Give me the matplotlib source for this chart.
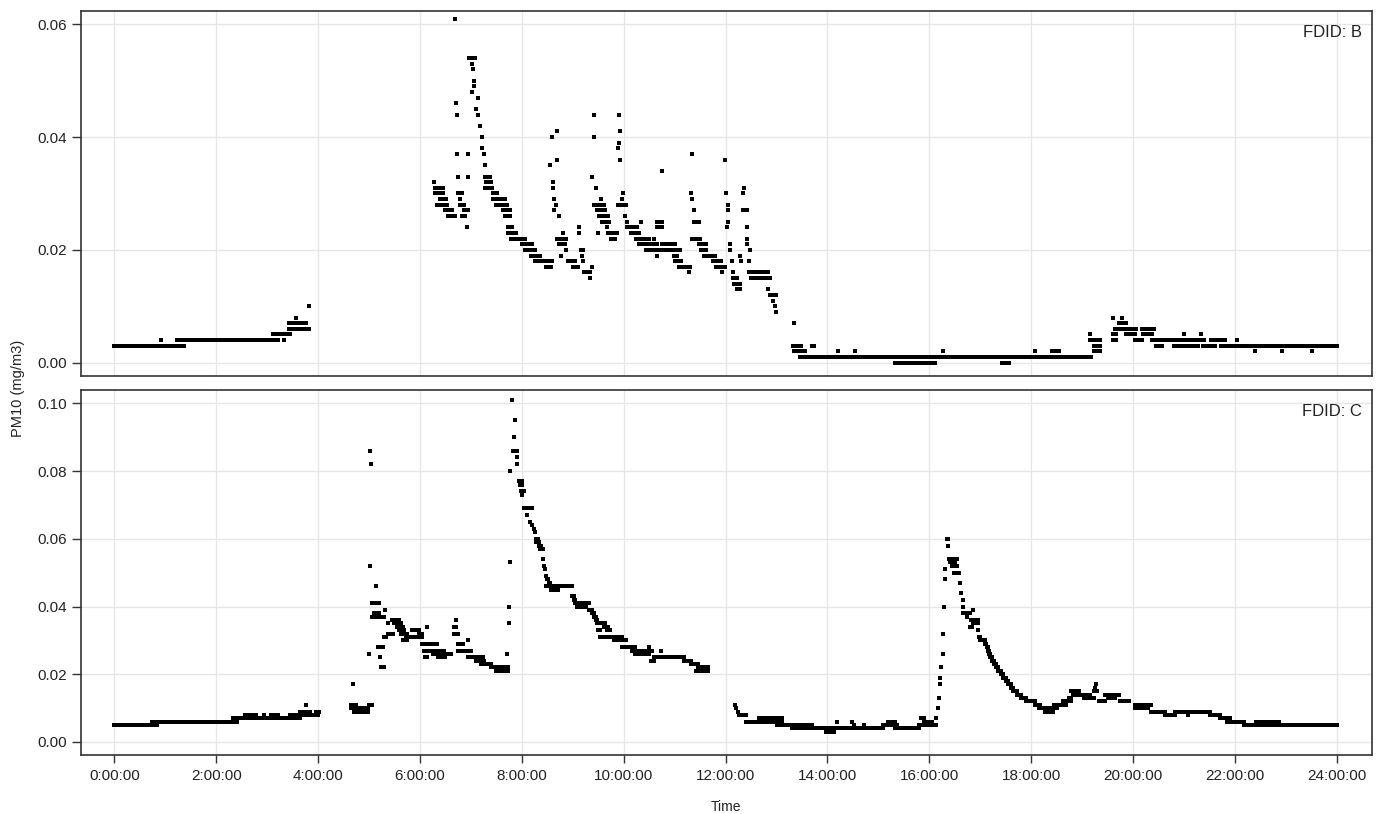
import numpy as np
import matplotlib
matplotlib.use("Agg")
import matplotlib.pyplot as plt

plt.rcParams['font.family'] = ['Liberation Sans', 'DejaVu Sans']

# ---------------- data: (start hour, end hour, PM10 value) runs
# Panel B
B_NIGHT = [
    (0.00, 1.37, 0.003), (0.91, 0.91, 0.004), (1.24, 3.21, 0.004),
    (3.12, 3.45, 0.005), (3.33, 3.33, 0.004), (3.42, 3.76, 0.007),
    (3.42, 3.83, 0.006), (3.56, 3.56, 0.008), (3.82, 3.82, 0.010),
]
B_MORNING = [
    (6.28, 6.28, 0.032), (6.30, 6.46, 0.031), (6.30, 6.46, 0.030),
    (6.40, 6.51, 0.029), (6.34, 6.53, 0.028), (6.49, 6.62, 0.027),
    (6.55, 6.69, 0.026), (6.68, 6.68, 0.061), (6.70, 6.70, 0.046),
    (6.73, 6.73, 0.044), (6.73, 6.73, 0.037), (6.75, 6.75, 0.033),
    (6.75, 6.82, 0.030), (6.78, 6.78, 0.029), (6.78, 6.86, 0.028),
    (6.86, 6.95, 0.027), (6.82, 6.89, 0.026), (6.93, 6.93, 0.024),
    (6.95, 6.95, 0.037), (6.95, 6.95, 0.033), (6.97, 7.08, 0.054),
    (7.02, 7.02, 0.053), (7.05, 7.05, 0.052), (7.07, 7.07, 0.050),
    (7.07, 7.07, 0.049), (7.02, 7.02, 0.048), (7.13, 7.13, 0.047),
    (7.10, 7.10, 0.045), (7.13, 7.13, 0.044), (7.17, 7.17, 0.042),
    (7.21, 7.21, 0.040), (7.21, 7.21, 0.038), (7.25, 7.25, 0.037),
    (7.27, 7.27, 0.035), (7.28, 7.38, 0.033), (7.30, 7.40, 0.032),
    (7.28, 7.42, 0.031), (7.44, 7.51, 0.030), (7.44, 7.67, 0.029),
    (7.49, 7.70, 0.028), (7.64, 7.76, 0.027), (7.67, 7.76, 0.026),
    (7.72, 7.81, 0.024), (7.72, 7.89, 0.023), (7.79, 8.07, 0.022),
    (8.00, 8.20, 0.021), (8.06, 8.25, 0.020), (8.18, 8.36, 0.019),
    (8.26, 8.59, 0.018), (8.47, 8.57, 0.017),
]
B_LATE_MORNING = [
    (8.56, 8.56, 0.035), (8.59, 8.59, 0.040), (8.70, 8.70, 0.041),
    (8.70, 8.70, 0.036), (8.61, 8.61, 0.032), (8.61, 8.61, 0.031),
    (8.64, 8.64, 0.029), (8.67, 8.67, 0.028), (8.64, 8.64, 0.027),
    (8.73, 8.73, 0.026), (8.80, 8.80, 0.023), (8.70, 8.87, 0.022),
    (8.72, 8.85, 0.021), (8.76, 8.76, 0.019), (8.87, 8.87, 0.020),
    (8.91, 9.05, 0.018), (9.00, 9.10, 0.017), (9.13, 9.13, 0.024),
    (9.13, 9.13, 0.023), (9.17, 9.21, 0.020), (9.19, 9.19, 0.019),
    (9.21, 9.21, 0.018), (9.22, 9.34, 0.016), (9.34, 9.34, 0.015),
    (9.38, 9.38, 0.017), (9.41, 9.41, 0.044), (9.41, 9.41, 0.040),
    (9.38, 9.38, 0.033), (9.46, 9.46, 0.031), (9.55, 9.55, 0.029),
    (9.42, 9.61, 0.028), (9.47, 9.64, 0.027), (9.52, 9.69, 0.026),
    (9.57, 9.72, 0.025), (9.50, 9.50, 0.023), (9.68, 9.68, 0.024),
    (9.69, 9.86, 0.023), (9.75, 9.83, 0.022), (9.90, 9.90, 0.044),
    (9.92, 9.92, 0.041), (9.90, 9.90, 0.039), (9.88, 9.88, 0.038),
    (9.92, 9.92, 0.036), (9.99, 9.99, 0.030), (9.96, 9.96, 0.029),
    (9.88, 10.04, 0.028),
]
B_MIDDAY = [
    (10.02, 10.02, 0.026), (10.06, 10.06, 0.025), (10.07, 10.27, 0.024),
    (10.14, 10.30, 0.023), (10.33, 10.33, 0.025), (10.24, 10.50, 0.022),
    (10.30, 10.66, 0.021), (10.43, 10.70, 0.020), (10.59, 10.59, 0.022),
    (10.66, 10.66, 0.019), (10.66, 10.75, 0.025), (10.66, 10.75, 0.024),
    (10.75, 10.75, 0.034), (10.75, 11.00, 0.021), (10.75, 11.10, 0.020),
    (10.98, 11.05, 0.019), (11.00, 11.13, 0.018), (11.09, 11.31, 0.017),
    (11.29, 11.29, 0.016), (11.35, 11.35, 0.037), (11.32, 11.32, 0.030),
    (11.35, 11.35, 0.029), (11.38, 11.38, 0.027), (11.38, 11.47, 0.025),
    (11.35, 11.50, 0.022), (11.47, 11.61, 0.021), (11.52, 11.61, 0.020),
    (11.58, 11.79, 0.019), (11.75, 11.91, 0.018), (11.81, 11.98, 0.017),
    (11.93, 11.93, 0.016), (11.98, 11.98, 0.036), (12.00, 12.00, 0.030),
    (12.04, 12.04, 0.028), (12.05, 12.05, 0.027), (12.05, 12.05, 0.025),
    (12.03, 12.03, 0.024), (12.09, 12.09, 0.021), (12.09, 12.09, 0.020),
    (12.12, 12.12, 0.018), (12.15, 12.15, 0.016), (12.15, 12.22, 0.015),
    (12.17, 12.28, 0.014), (12.22, 12.28, 0.013), (12.28, 12.28, 0.019),
    (12.31, 12.31, 0.018), (12.34, 12.34, 0.030), (12.37, 12.37, 0.031),
    (12.34, 12.42, 0.027), (12.42, 12.42, 0.024), (12.43, 12.43, 0.022),
    (12.43, 12.43, 0.021), (12.47, 12.47, 0.020), (12.45, 12.45, 0.018),
    (12.46, 12.84, 0.016), (12.49, 12.87, 0.015), (12.84, 12.84, 0.013),
    (12.87, 12.98, 0.012), (12.93, 12.93, 0.011), (12.97, 12.97, 0.010),
    (12.98, 12.98, 0.009), (13.35, 13.35, 0.007), (13.33, 13.48, 0.003),
    (13.35, 13.55, 0.002), (13.69, 13.73, 0.003),
]
B_AFTERNOON = [
    (13.46, 19.17, 0.001), (14.20, 14.20, 0.002), (14.55, 14.55, 0.002),
    (15.33, 15.50, 0.000), (15.57, 15.91, 0.000), (16.00, 16.12, 0.000),
    (16.26, 16.26, 0.002), (17.43, 17.57, 0.000), (18.07, 18.07, 0.002),
    (18.41, 18.55, 0.002), (19.16, 19.16, 0.005), (19.16, 19.36, 0.004),
    (19.23, 19.36, 0.003), (19.23, 19.36, 0.002), (19.60, 19.60, 0.008),
    (19.79, 19.79, 0.008), (19.72, 19.86, 0.007), (19.64, 20.06, 0.006),
    (19.60, 19.67, 0.005), (19.60, 19.67, 0.004), (19.86, 20.04, 0.005),
    (20.04, 20.17, 0.004), (20.17, 20.41, 0.006), (20.20, 20.37, 0.005),
    (20.37, 21.20, 0.004), (20.44, 20.57, 0.003), (20.81, 20.98, 0.003),
    (21.00, 21.00, 0.005), (21.03, 21.27, 0.003), (21.17, 21.40, 0.004),
    (21.33, 21.33, 0.005), (21.38, 21.60, 0.003), (21.53, 21.80, 0.004),
    (22.03, 22.03, 0.004), (21.73, 24.00, 0.003), (22.40, 22.40, 0.002),
    (22.93, 22.93, 0.002), (23.52, 23.52, 0.002),
]

# Panel C
C_NIGHT = [
    (0.00, 0.83, 0.005), (0.73, 2.40, 0.006), (2.33, 3.65, 0.007),
    (2.57, 2.79, 0.008), (2.93, 2.93, 0.008), (3.07, 3.22, 0.008),
    (3.44, 4.00, 0.008), (3.65, 3.84, 0.009), (3.76, 3.76, 0.011),
    (3.95, 4.02, 0.009), (4.65, 4.75, 0.011), (4.65, 4.80, 0.010),
    (4.68, 4.68, 0.017), (4.70, 4.98, 0.009), (4.85, 4.98, 0.010),
    (5.00, 5.05, 0.011),
]
C_MORNING = [
    (4.99, 4.99, 0.026), (5.01, 5.01, 0.052), (5.02, 5.02, 0.086),
    (5.04, 5.04, 0.082), (5.13, 5.13, 0.046), (5.06, 5.19, 0.041),
    (5.06, 5.23, 0.037), (5.10, 5.20, 0.038), (5.32, 5.32, 0.039),
    (5.30, 5.30, 0.037), (5.17, 5.27, 0.028), (5.21, 5.21, 0.025),
    (5.24, 5.29, 0.022), (5.29, 5.33, 0.031), (5.37, 5.48, 0.032),
    (5.37, 5.37, 0.035), (5.46, 5.59, 0.036), (5.50, 5.62, 0.035),
    (5.55, 5.66, 0.034), (5.58, 5.68, 0.033), (5.62, 5.75, 0.032),
    (5.66, 5.75, 0.030), (5.72, 6.05, 0.031), (5.85, 5.98, 0.033),
    (5.98, 6.05, 0.032), (6.14, 6.14, 0.034), (6.05, 6.10, 0.029),
    (6.08, 6.14, 0.027), (6.10, 6.14, 0.025), (6.18, 6.34, 0.029),
    (6.21, 6.47, 0.027), (6.25, 6.61, 0.026), (6.35, 6.50, 0.025),
    (6.71, 6.71, 0.036), (6.66, 6.70, 0.034), (6.66, 6.75, 0.032),
    (6.75, 6.85, 0.029), (6.75, 7.00, 0.027), (6.94, 6.94, 0.030),
    (6.94, 7.23, 0.025), (7.10, 7.26, 0.024), (7.20, 7.39, 0.023),
    (7.39, 7.72, 0.022), (7.49, 7.72, 0.021), (7.71, 7.71, 0.026),
    (7.74, 7.74, 0.035), (7.74, 7.74, 0.040), (7.77, 7.77, 0.053),
    (7.77, 7.77, 0.080), (7.80, 7.80, 0.101), (7.86, 7.86, 0.095),
    (7.84, 7.84, 0.090), (7.82, 7.91, 0.086), (7.91, 7.91, 0.084),
    (7.91, 7.91, 0.082), (7.94, 8.00, 0.077), (7.96, 8.00, 0.076),
    (7.98, 8.05, 0.074), (8.05, 8.05, 0.069),
]
C_LATE_MORNING = [
    (8.00, 8.00, 0.073), (8.10, 8.20, 0.069), (8.10, 8.10, 0.067),
    (8.17, 8.17, 0.065), (8.20, 8.20, 0.064), (8.24, 8.24, 0.063),
    (8.25, 8.25, 0.062), (8.28, 8.31, 0.060), (8.28, 8.34, 0.059),
    (8.33, 8.38, 0.058), (8.36, 8.41, 0.057), (8.41, 8.41, 0.054),
    (8.43, 8.43, 0.052), (8.46, 8.46, 0.051), (8.48, 8.48, 0.049),
    (8.50, 8.52, 0.048), (8.48, 8.98, 0.046), (8.58, 8.71, 0.045),
    (8.53, 8.56, 0.047), (8.98, 9.02, 0.043), (9.02, 9.05, 0.042),
    (9.05, 9.32, 0.041), (9.08, 9.25, 0.040), (9.32, 9.37, 0.039),
    (9.37, 9.42, 0.038), (9.42, 9.46, 0.037), (9.46, 9.48, 0.036),
    (9.48, 9.50, 0.035), (9.50, 9.53, 0.033), (9.53, 9.58, 0.031),
    (9.58, 9.64, 0.035), (9.62, 9.70, 0.034), (9.68, 9.74, 0.033),
    (9.64, 9.97, 0.031), (9.80, 10.04, 0.030), (9.97, 10.23, 0.028),
    (10.17, 10.56, 0.027), (10.23, 10.49, 0.026), (10.50, 10.50, 0.028),
    (10.53, 10.60, 0.024), (10.60, 11.19, 0.025), (10.73, 10.73, 0.027),
    (11.19, 11.32, 0.024), (11.32, 11.45, 0.023), (11.42, 11.65, 0.021),
    (11.45, 11.60, 0.022), (11.65, 11.65, 0.022),
]
C_MIDDAY = [
    (12.19, 12.19, 0.011), (12.21, 12.21, 0.010), (12.24, 12.24, 0.009),
    (12.27, 12.40, 0.008), (12.40, 12.66, 0.006), (12.66, 12.95, 0.007),
    (12.70, 13.10, 0.006), (12.95, 13.10, 0.007), (13.00, 13.20, 0.005),
    (13.20, 13.70, 0.005), (13.30, 13.70, 0.004), (13.70, 14.60, 0.004),
    (13.97, 14.13, 0.003), (14.18, 14.18, 0.006), (14.48, 14.48, 0.006),
    (14.52, 14.52, 0.005), (14.71, 14.71, 0.005), (14.60, 15.09, 0.004),
    (15.09, 15.36, 0.005), (15.19, 15.33, 0.006), (15.33, 15.80, 0.004),
    (15.80, 16.14, 0.005), (15.83, 15.90, 0.007), (15.90, 16.05, 0.006),
]
C_AFTERNOON = [
    (16.14, 16.14, 0.007), (16.17, 16.17, 0.010), (16.18, 16.18, 0.013),
    (16.20, 16.20, 0.017), (16.20, 16.20, 0.019), (16.23, 16.23, 0.022),
    (16.26, 16.26, 0.026), (16.26, 16.26, 0.032), (16.29, 16.29, 0.040),
    (16.31, 16.31, 0.048), (16.31, 16.31, 0.051), (16.35, 16.37, 0.060),
    (16.36, 16.36, 0.058), (16.38, 16.55, 0.054), (16.40, 16.50, 0.053),
    (16.45, 16.55, 0.052), (16.48, 16.58, 0.050), (16.60, 16.60, 0.047),
    (16.62, 16.62, 0.044), (16.66, 16.66, 0.042), (16.66, 16.66, 0.040),
    (16.66, 16.80, 0.038), (16.74, 16.74, 0.037), (16.80, 16.83, 0.034),
    (16.86, 16.86, 0.039), (16.82, 16.96, 0.036), (16.85, 16.96, 0.035),
    (16.96, 16.96, 0.033), (16.98, 17.00, 0.031), (16.99, 17.09, 0.030),
    (17.09, 17.12, 0.029), (17.13, 17.16, 0.028), (17.16, 17.18, 0.027),
    (17.18, 17.20, 0.026), (17.20, 17.23, 0.025), (17.23, 17.27, 0.024),
    (17.27, 17.30, 0.023), (17.30, 17.35, 0.022), (17.35, 17.40, 0.021),
    (17.40, 17.45, 0.020), (17.45, 17.50, 0.019), (17.50, 17.54, 0.018),
    (17.54, 17.60, 0.017), (17.60, 17.65, 0.016), (17.65, 17.72, 0.015),
    (17.72, 17.80, 0.014), (17.80, 17.90, 0.013), (17.90, 18.08, 0.012),
    (18.08, 18.18, 0.011), (18.15, 18.30, 0.010), (18.28, 18.42, 0.009),
    (18.38, 18.50, 0.010), (18.45, 18.69, 0.011), (18.62, 18.78, 0.012),
    (18.75, 18.79, 0.013), (18.79, 18.93, 0.015), (18.82, 19.16, 0.014),
    (19.03, 19.23, 0.013), (19.26, 19.26, 0.016), (19.27, 19.27, 0.017),
    (19.24, 19.30, 0.015), (19.33, 19.44, 0.012), (19.44, 19.72, 0.014),
    (19.50, 19.65, 0.013), (19.75, 19.92, 0.012), (20.04, 20.35, 0.011),
    (20.04, 20.30, 0.010), (20.35, 20.62, 0.009), (20.62, 20.83, 0.008),
    (20.83, 21.03, 0.009), (21.03, 21.50, 0.009), (21.08, 21.08, 0.008),
    (21.50, 21.70, 0.008), (21.70, 21.90, 0.007), (21.84, 22.18, 0.006),
    (22.18, 24.00, 0.005), (22.42, 22.86, 0.006),
]

X_TICKS = list(range(0, 25, 2))
X_TICK_LABELS = [f"{h}:00:00" for h in X_TICKS]
B_YTICKS = [0.00, 0.02, 0.04, 0.06]
C_YTICKS = [0.00, 0.02, 0.04, 0.06, 0.08, 0.10]
PANEL_LABELS = ["FDID: B", "FDID: C"]


def expand(*groups):
    ts, vs = [], []
    for runs in groups:
        for t0, t1, v in runs:
            n = max(1, int(round((t1 - t0) * 60)) + 1)
            ts.extend(np.linspace(t0, t1, n))
            vs.extend([v] * n)
    return np.array(ts), np.array(vs)


W, H = 1381, 814
fig = plt.figure(figsize=(W / 100, H / 100), dpi=100)

L, R = 80.7, 1372
ax_b = fig.add_axes([L / W, 1 - 375.6 / H, (R - L) / W, (375.6 - 11) / H])
ax_c = fig.add_axes([L / W, 1 - 755 / H, (R - L) / W, (755 - 390) / H])

grid_c = '#e6e6e6'
frame_c = '#333333'

for ax, data, yt, ylim, lab in [
    (ax_b, expand(B_NIGHT, B_MORNING, B_LATE_MORNING, B_MIDDAY, B_AFTERNOON),
     B_YTICKS, (-0.00229, 0.06236), PANEL_LABELS[0]),
    (ax_c, expand(C_NIGHT, C_MORNING, C_LATE_MORNING, C_MIDDAY, C_AFTERNOON),
     C_YTICKS, (-0.00384, 0.10393), PANEL_LABELS[1]),
]:
    t, v = data
    ax.plot(t, v, linestyle='none', marker='s', markersize=3.0,
            markeredgewidth=0, color='black', zorder=3)
    ax.set_xlim(-0.66, 24.69)
    ax.set_ylim(*ylim)
    ax.set_xticks(X_TICKS)
    ax.set_yticks(yt)
    ax.set_yticklabels([f"{y:.2f}" for y in yt])
    ax.grid(True, color=grid_c, linewidth=1.0, zorder=0)
    ax.set_axisbelow(True)
    for s in ax.spines.values():
        s.set_color(frame_c)
        s.set_linewidth(1.2)
    ax.tick_params(axis='y', direction='out', length=6.5, width=1.0,
                   color=frame_c, labelsize=11, pad=3.5, labelcolor='#222222')
    ax.text(0.9923, 0.941, lab, transform=ax.transAxes, ha='right',
            va='center', fontsize=12, color='#222222')

ax_b.tick_params(axis='x', bottom=False, labelbottom=False)
ax_c.set_xticklabels(X_TICK_LABELS)
ax_c.tick_params(axis='x', direction='out', length=6, width=1.0,
                 color=frame_c, labelsize=11, pad=4.3, labelcolor='#222222')

fig.text(18 / W, 1 - 388 / H, 'PM10 (mg/m3)', rotation=90, ha='center',
         va='center', fontsize=10.5, color='#222222')
fig.text((L + R) / 2 / W, 1 - 811 / H, 'Time', ha='center', va='baseline',
         fontsize=10, color='#222222')

fig.savefig('out.png', dpi=100)
